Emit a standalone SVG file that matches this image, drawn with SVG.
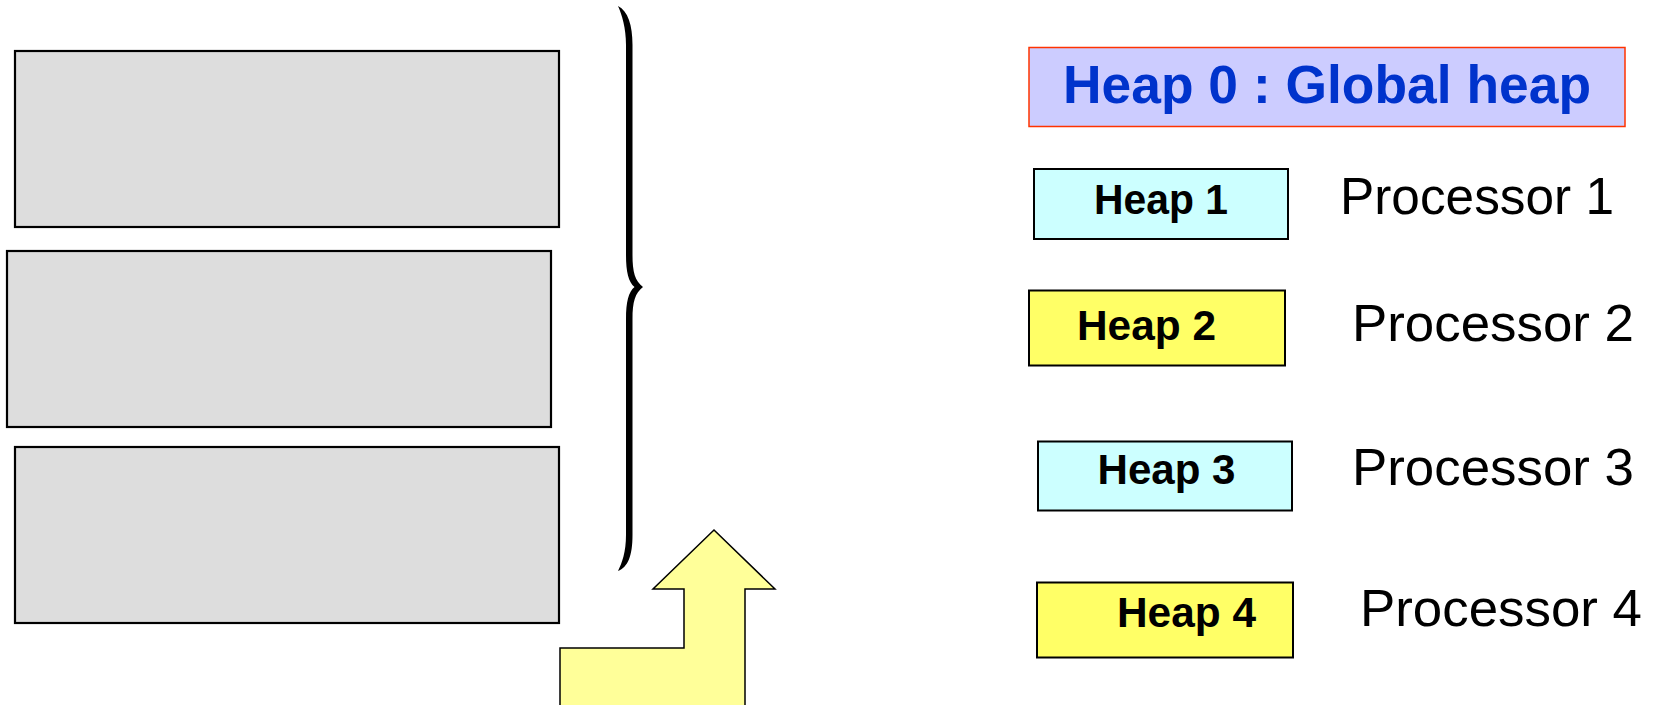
<svg xmlns="http://www.w3.org/2000/svg" width="1654" height="705" viewBox="0 0 1654 705">
  <style>
    .block { fill: #DDDDDD; stroke: #000; stroke-width: 2.2; }
    .heap { stroke: #000; stroke-width: 2; }
    .cyan { fill: #CCFFFF; }
    .yellow { fill: #FFFF66; }
    .lbl { font-family: "Liberation Sans", Arial, sans-serif; font-weight: bold; font-size: 42px; fill: #000; }
    .proc { font-family: "Liberation Sans", Arial, sans-serif; font-size: 52px; fill: #000; }
  </style>
  <rect width="1654" height="705" fill="#fff"/>

  <!-- memory blocks -->
  <g id="block1"><rect class="block" x="15" y="51" width="544" height="176"/></g>
  <g id="block2"><rect class="block" x="7" y="251" width="544" height="176"/></g>
  <g id="block3"><rect class="block" x="15" y="447" width="544" height="176"/></g>

  <!-- right curly brace grouping the blocks -->
  <g id="brace">
    <path fill="#000" d="M618,6 C628,11 632.5,25 632.5,45 L632.5,255 C632.5,272 635,281 643,287 C635,293 632.5,302 632.5,319 L632.5,535 C632.5,556 628,567 618,571 C622,563 626,552 626,535 L626,319 C626,302 628.5,292 634.5,287 C628.5,282 626,272 626,255 L626,45 C626,28 622,15 618,6 Z"/>
  </g>

  <!-- bent up arrow -->
  <g id="connectors">
    <polygon points="560,706 560,648 684,648 684,589 653,589 714,530 775,589 745,589 745,706" fill="#FFFF99" stroke="#000" stroke-width="1.5"/>
  </g>

  <!-- global heap -->
  <g id="heap0">
    <rect x="1029" y="47.5" width="596" height="79" fill="#CCCCFF" stroke="#FF3300" stroke-width="1.5"/>
    <text x="1327" y="102.5" text-anchor="middle" font-family="Liberation Sans, Arial, sans-serif" font-weight="bold" font-size="54" fill="#0033CC" textLength="528" lengthAdjust="spacingAndGlyphs">Heap 0 : Global heap</text>
  </g>

  <!-- per-processor heaps -->
  <g id="heap1">
    <rect class="heap cyan" x="1034" y="169" width="254" height="70"/>
    <text class="lbl" x="1161" y="213.5" text-anchor="middle" textLength="134" lengthAdjust="spacingAndGlyphs">Heap 1</text>
  </g>
  <g id="proc1"><text class="proc" x="1340" y="213.5" textLength="274" lengthAdjust="spacingAndGlyphs">Processor 1</text></g>

  <g id="heap2">
    <rect class="heap yellow" x="1029" y="290.5" width="256" height="75"/>
    <text class="lbl" x="1077" y="340" textLength="139" lengthAdjust="spacingAndGlyphs">Heap 2</text>
  </g>
  <g id="proc2"><text class="proc" x="1352" y="341" textLength="282" lengthAdjust="spacingAndGlyphs">Processor 2</text></g>

  <g id="heap3">
    <rect class="heap cyan" x="1038" y="441.5" width="254" height="69"/>
    <text class="lbl" x="1166.5" y="484" text-anchor="middle" textLength="138" lengthAdjust="spacingAndGlyphs">Heap 3</text>
  </g>
  <g id="proc3"><text class="proc" x="1352" y="485" textLength="282" lengthAdjust="spacingAndGlyphs">Processor 3</text></g>

  <g id="heap4">
    <rect class="heap yellow" x="1037" y="582.5" width="256" height="75"/>
    <text class="lbl" x="1117" y="627" textLength="139" lengthAdjust="spacingAndGlyphs">Heap 4</text>
  </g>
  <g id="proc4"><text class="proc" x="1360" y="626" textLength="282" lengthAdjust="spacingAndGlyphs">Processor 4</text></g>
</svg>
